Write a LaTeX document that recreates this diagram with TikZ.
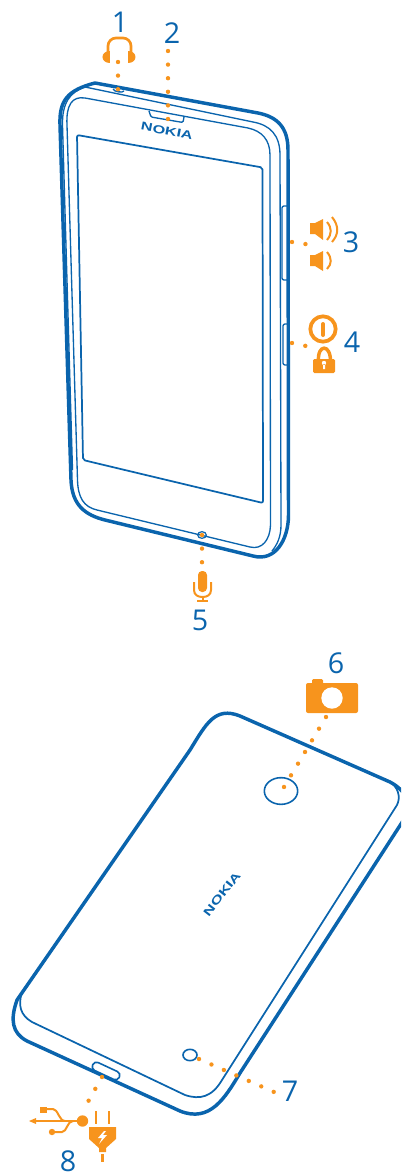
\documentclass[tikz,border=0pt]{standalone}
\usepackage{fontspec}
\setmainfont{Open Sans}
\newfontfamily\logofont{Liberation Sans}
\usetikzlibrary{shapes.geometric}
\definecolor{phoneblue}{HTML}{0A64AD}
\definecolor{markorange}{HTML}{F7941D}

\begin{document}
\begin{tikzpicture}[
    x=0.75pt, y=-0.75pt,
    every node/.style={inner sep=0pt, outer sep=0pt},
    number/.style={text=phoneblue, font=\fontsize{21.5}{21.5}\selectfont},
    logo/.style={text=phoneblue, font=\logofont\bfseries\fontsize{8.6}{8.6}\selectfont},
    shell/.style={draw=phoneblue, line width=2.6pt, line join=round},
    edge/.style={draw=phoneblue, line width=1.3pt, line join=round},
    thin edge/.style={draw=phoneblue, line width=1pt, line join=round},
    hole/.style={draw=phoneblue, line width=1.2pt, ellipse},
    dots/.style={draw=markorange, line width=3.3pt, line cap=round, dash pattern=on 0pt off 10.2pt, shorten >=-1.5pt},
    icon/.style={fill=markorange},
    iconline/.style={draw=markorange, line width=1.5pt},
    cutout/.style={fill=white}
]
\useasboundingbox (0,0) rectangle (401,1174);
\clip (0,0) rectangle (401,1174);

% Front of the phone
\draw[shell] (71,480) -- (60,125) .. controls (59,100) and (68,90) .. (95,83) -- (258,113) .. controls (278,117) and (288,128) .. (288,150) -- (288.5,515) .. controls (288.5,540) and (275,562) .. (253,556) -- (105,520) .. controls (85,515) and (72,505) .. (71,480) -- cycle;
\draw[thin edge] (85,87) .. controls (70,92) and (62,103) .. (62.5,125) -- (72.5,470);
\draw[thin edge] (85,87) -- (253,122) .. controls (270,125) and (280,135) .. (280,155) -- (281,525) .. controls (281,537) and (277,545) .. (272,551);
\draw[thin edge] (67,125) .. controls (66,105) and (72,96) .. (85,98) -- (248,128) .. controls (262,131) and (270,140) .. (270,155) -- (270.5,525) .. controls (270,540) and (262,550) .. (250,547) -- (97,510) .. controls (84,507) and (78,498) .. (77.5,480) -- cycle;
\draw[edge, rounded corners=1.5pt] (77,135) -- (262.5,167.5) -- (263,503) -- (83,460) -- cycle;
\draw[thin edge, rounded corners=1pt] (149,111) -- (151,117) -- (183,122.5) -- (184,117);
\draw[thin edge, rounded corners=1.5pt] (287,206) -- (282,206) -- (282,280) -- (287,280);
\draw[thin edge, rounded corners=1.5pt] (287,324) -- (283,324) -- (283,365) -- (287,365);
\draw[thin edge] (113,89) .. controls (114,92) and (123,93) .. (124,91);
\node[hole, line width=0.9pt, minimum width=6.5pt, minimum height=5pt] (micport) at (202,535) {};
\node[logo, rotate=-11] (frontlogo) at (167,131) {\scalebox{1.42}[1]{NOKIA}};

% Back of the phone
\draw[shell] (190,750) .. controls (206,724) and (215,706) .. (240,716) -- (390,782) .. controls (400,787) and (405,795) .. (410,800) -- (410,810) -- (240,1073) .. controls (225,1098) and (210,1123) .. (180,1111) -- (27,1041) .. controls (12,1033) and (10,1020) .. (17,1000) -- cycle;
\draw[edge] (22,992) .. controls (18,1005) and (20,1015) .. (32,1022) -- (185,1095) .. controls (200,1100) and (212,1097) .. (222,1080) -- (397,805) .. controls (401,797) and (398,787) .. (390,782);
\node[hole, minimum width=25pt, minimum height=20pt] (lens) at (281,791) {};
\node[hole, minimum width=10.5pt, minimum height=8.5pt] (flash) at (190,1055) {};
\node[hole, rectangle, fill=white, rounded corners=3pt, minimum width=22pt, minimum height=6.5pt, rotate=-25] (usbport) at (106,1071) {};
\node[logo, rotate=52] (backlogo) at (222,894) {\scalebox{1.42}[1]{NOKIA}};

% Headset
\draw[iconline, line width=2pt, rounded corners=6pt] (108,55) -- (108,38) -- (131,38) -- (131,55);
\fill[icon] (110,51) .. controls (100,51) and (100,63) .. (110,63) -- cycle;
\fill[icon] (128,51) .. controls (138,51) and (138,63) .. (128,63) -- cycle;

% Volume
\fill[icon] (310,223) -- (315,223) -- (323,219) -- (323,240) -- (315,234) -- (310,234) -- cycle;
\draw[iconline] (327,222) .. controls (332,228) and (332,234) .. (327,240);
\draw[iconline] (332,217) .. controls (339,226) and (339,234) .. (332,242);
\fill[icon] (310,255) -- (315,255) -- (323,251) -- (323,271) -- (315,266) -- (310,266) -- cycle;
\draw[iconline] (327,252) .. controls (332,258) and (332,264) .. (327,269);

% Power key and lock
\node[circle, draw=markorange, line width=2.8pt, minimum size=19pt] (powerkey) at (323,329) {};
\draw[iconline, line width=3pt, line cap=round] (323,324) -- (323,335);
\draw[iconline, line width=2.6pt] (318.5,362) .. controls (317,343.5) and (331,343.5) .. (330.5,362);
\fill[icon, rounded corners=1pt] (313,359) rectangle (335,373);
\fill[cutout] (324,363) circle [radius=2.2] (323,364) rectangle (325,369);

% Microphone
\fill[icon, rounded corners=3pt] (198,571) rectangle (207,592);
\draw[iconline] (194,582) -- (194,590) .. controls (194,595) and (198,597) .. (202.5,597) .. controls (207,597) and (211,595) .. (211,590) -- (211,582);
\draw[iconline] (202.5,597) -- (202.5,601) (197,601) -- (208,601);

% Camera
\fill[icon, rounded corners=1pt] (312,679) rectangle (323,690);
\fill[icon, rounded corners=1.5pt] (306,683) rectangle (358,713);
\fill[cutout] (332,698) circle [radius=10.7];

% USB
\fill[icon] (82.5,1121) circle [radius=5.7];
\fill[icon] (40,1107) rectangle (47,1113);
\fill[icon] (52,1132) circle [radius=3.2];
\fill[icon] (29,1121) -- (36,1118) -- (36,1124) -- cycle;
\draw[iconline] (34,1121) -- (82,1121);
\draw[iconline] (46,1109) -- (53,1109) .. controls (58,1109) and (59,1121) .. (65,1121);
\draw[iconline] (52,1132) -- (62,1132) .. controls (67,1132) and (67,1121) .. (73,1121);

% Charger plug
\draw[iconline, line width=2.2pt] (96,1111) -- (96,1124) (109,1111) -- (109,1124);
\fill[icon] (89,1127) -- (116,1127) -- (116,1139) -- (106,1148) -- (106,1152) -- (99,1152) -- (99,1148) -- (89,1139) -- cycle;
\draw[iconline, line width=2.4pt] (102.5,1154) -- (102.5,1162);
\fill[cutout] (104,1131) -- (98,1138) -- (102,1138) -- (99,1144) -- (107,1135) -- (103,1135) -- (106,1131) -- cycle;

% Numbers
\node[number] (num1) at (120,22) {1};
\node[number] (num2) at (172,33) {2};
\node[number] (num3) at (351,242) {3};
\node[number] (num4) at (352,342) {4};
\node[number] (num5) at (200,620) {5};
\node[number] (num6) at (336,663) {6};
\node[number] (num7) at (290,1091) {7};
\node[number] (num8) at (68,1161) {8};

% Dotted leaders
\coordinate (headset) at (118,62);
\coordinate (jack) at (118,89);
\coordinate (earpiece) at (168,51);
\coordinate (earend) at (168,119);
\coordinate (volkey) at (292,242);
\coordinate (volicon) at (305,244);
\coordinate (sidekey) at (292,343);
\coordinate (lockicon) at (306,346);
\coordinate (micend) at (202,563);
\coordinate (camicon) at (326,717);
\coordinate (lensend) at (284,787);
\coordinate (flashend) at (199,1059);
\coordinate (sevenend) at (274,1092);
\coordinate (portend) at (102,1077);
\coordinate (usbicon) at (89,1100);

\draw[dots] (headset) -- (jack);
\draw[dots] (earpiece) -- (earend);
\draw[dots] (volkey) -- (volicon);
\draw[dots] (sidekey) -- (lockicon);
\draw[dots] (micport.center) -- (micend);
\draw[dots] (camicon) -- (lensend);
\draw[dots] (flashend) -- (sevenend);
\draw[dots] (portend) -- (usbicon);

\end{tikzpicture}
\end{document}
